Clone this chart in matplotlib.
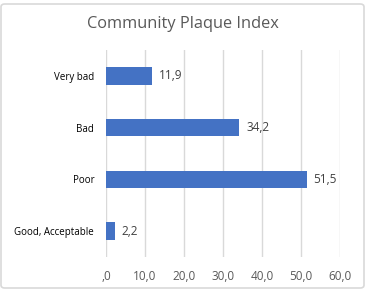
import matplotlib.pyplot as plt
from matplotlib.patches import FancyBboxPatch

categories = ["Good, Acceptable", "Poor", "Bad", "Very bad"]
values = [2.2, 51.5, 34.2, 11.9]
x_ticks = [0, 10, 20, 30, 40, 50, 60]
x_tick_labels = [",0", "10,0", "20,0", "30,0", "40,0", "50,0", "60,0"]

plt.rcParams["font.family"] = ["Open Sans", "DejaVu Sans"]

W, H = 367, 289
fig = plt.figure(figsize=(W / 100, H / 100), dpi=100)
fig.patch.set_facecolor("white")

# outer chart border
fig.patches.append(FancyBboxPatch((1 / W, 1 / H), (W - 4) / W, (H - 5) / H,
                                  boxstyle="round,pad=0,rounding_size=0.01",
                                  transform=fig.transFigure, fill=False,
                                  edgecolor="#d9d9d9", linewidth=1.2))

ax = fig.add_axes([106 / W, 1 - 257 / H, (340 - 106) / W, (257 - 50) / H])
pos = range(len(categories))
ax.barh(pos, values, height=0.34, color="#4472C4")
for p, v in zip(pos, values):
    ax.text(v + 1.7, p, f"{v:.1f}".replace(".", ","), va="center", ha="left",
            fontsize=8.5, color="#404040")

ax.set_xlim(0, 60)
ax.set_ylim(-0.5, len(categories) - 0.5)
ax.set_xticks(x_ticks)
ax.set_xticklabels(x_tick_labels, fontsize=8.5, color="#595959")
ax.set_yticks(list(pos))
ax.set_yticklabels(categories, fontsize=7, color="#000000")
ax.tick_params(length=0)
ax.tick_params(axis="x", pad=9)
ax.tick_params(axis="y", pad=8.5)
ax.grid(axis="x", color="#d9d9d9", linewidth=1)
ax.set_axisbelow(True)
for s in ax.spines.values():
    s.set_visible(False)

fig.text(183 / W, 1 - 24 / H, "Community Plaque Index", ha="center", va="center",
         fontsize=11.8, color="#595959")

fig.savefig("out.png", dpi=100)
